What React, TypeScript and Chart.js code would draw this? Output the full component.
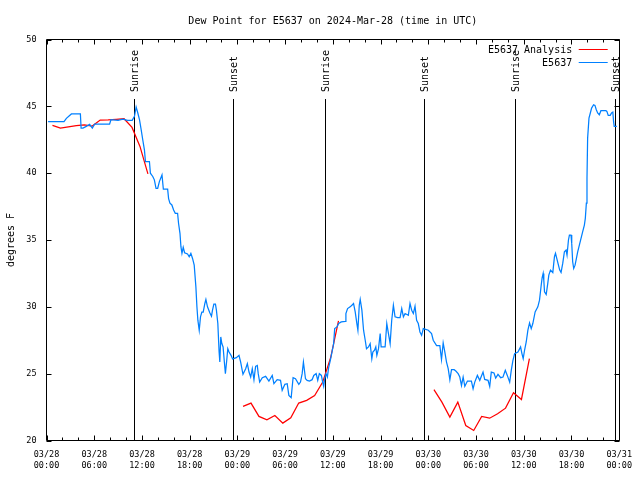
import { useEffect, useRef } from 'react';
import { Chart, registerables } from 'chart.js';

Chart.register(...registerables);

const FONT = '"DejaVu Sans Mono", "Liberation Mono", monospace';

const titleText = 'Dew Point for E5637 on 2024-Mar-28 (time in UTC)';
const yAxisTitle = 'degrees F';

// x axis: hours since 2024-03-28 00:00 UTC
const tickDates = ['03/28', '03/28', '03/28', '03/28', '03/29', '03/29', '03/29', '03/29', '03/30', '03/30', '03/30', '03/30', '03/31'];
const tickTimes = ['00:00', '06:00', '12:00', '18:00', '00:00', '06:00', '12:00', '18:00', '00:00', '06:00', '12:00', '18:00', '00:00'];

const sunEventLabels = ['Sunrise', 'Sunset', 'Sunrise', 'Sunset', 'Sunrise', 'Sunset'];
const sunEventHours = [10.97, 23.4, 35.05, 47.45, 58.93, 71.48];

const seriesNames = ['E5637 Analysis', 'E5637'];
const seriesColors = ['#ff0000', '#0080ff'];

// [hour, dew point °F]; null marks a gap
const analysisDewPoint: [number, number | null][] = [
  [0.75, 43.57], [1.75, 43.37], [2.75, 43.47], [3.75, 43.55], [4.75, 43.62], [5.75, 43.52], [6.75, 43.97],
  [7.75, 43.98], [8.75, 44.02], [9.75, 44.07], [10.75, 43.42], [11.75, 42.0], [12.75, 39.95],
  [18.7, null],
  [24.71, 22.55], [25.71, 22.8], [26.71, 21.8], [27.71, 21.55], [28.71, 21.87], [29.71, 21.3], [30.71, 21.7],
  [31.71, 22.8], [32.71, 23.0], [33.71, 23.37], [34.71, 24.35], [35.71, 26.17], [36.71, 28.95],
  [42.7, null],
  [48.71, 23.8], [49.71, 22.87], [50.71, 21.75], [51.71, 22.87], [52.71, 21.12], [53.71, 20.75], [54.71, 21.8],
  [55.71, 21.67], [56.71, 22.0], [57.71, 22.42], [58.71, 23.57], [59.71, 23.07], [60.71, 26.12],
];

const stationDewPoint: [number, number][] = [
  [0.2, 43.85], [2.2, 43.85], [2.5, 44.1], [3.13, 44.43], [4.26, 44.43], [4.35, 43.37], [4.59, 43.37], [5.0, 43.5], [5.42, 43.65], [5.76, 43.37],
  [6.05, 43.67], [7.93, 43.67], [8.1, 44.0], [9.0, 43.95], [9.6, 44.05], [10.2, 43.95], [10.77, 43.95], [11.06, 44.25], [11.27, 44.95], [11.48, 44.5],
  [11.69, 44.0], [11.9, 43.25], [12.1, 42.5], [12.31, 41.75], [12.44, 40.87], [12.94, 40.87], [13.06, 40.0], [13.36, 39.75], [13.56, 39.5], [13.77, 38.87],
  [13.98, 38.87], [14.19, 39.37], [14.52, 39.87], [14.69, 38.8], [15.23, 38.8], [15.35, 38.1], [15.52, 37.75], [15.76, 37.62], [15.98, 37.25], [16.19, 37.0],
  [16.48, 37.0], [16.6, 36.25], [16.78, 35.5], [16.9, 34.5], [17.03, 34.0], [17.19, 34.45], [17.36, 34.05], [17.73, 33.95], [17.94, 33.75], [18.15, 34.0],
  [18.36, 33.62], [18.57, 33.12], [18.78, 31.5], [18.91, 30.0], [19.03, 29.0], [19.2, 28.25], [19.36, 29.25], [19.53, 29.6], [19.7, 29.6], [19.91, 30.25],
  [20.04, 30.55], [20.24, 30.0], [20.53, 29.55], [20.74, 29.3], [20.87, 29.75], [21.04, 30.2], [21.24, 30.2], [21.36, 29.75], [21.54, 28.75], [21.7, 26.62],
  [21.79, 25.87], [21.91, 27.75], [22.04, 27.25], [22.2, 27.0], [22.36, 25.87], [22.49, 25.0], [22.66, 26.0], [22.79, 26.87], [22.95, 26.62], [23.2, 26.37],
  [23.4, 26.1], [23.87, 26.2], [24.2, 26.37], [24.41, 25.87], [24.7, 24.95], [25.04, 25.37], [25.25, 25.75], [25.46, 25.12], [25.67, 24.75], [25.87, 25.37],
  [26.08, 24.55], [26.29, 25.55], [26.5, 25.62], [26.62, 25.0], [26.8, 24.37], [27.13, 24.7], [27.55, 24.8], [27.96, 24.45], [28.38, 24.87], [28.59, 24.25],
  [29.0, 24.55], [29.42, 24.5], [29.63, 23.75], [29.97, 24.2], [30.26, 24.25], [30.47, 23.37], [30.76, 23.2], [31.0, 24.7], [31.3, 24.62], [31.72, 24.2],
  [31.93, 24.37], [32.14, 25.0], [32.3, 25.87], [32.56, 24.62], [32.77, 24.5], [33.06, 24.45], [33.39, 24.55], [33.6, 24.87], [33.9, 25.0], [34.1, 24.5],
  [34.3, 25.0], [34.56, 24.87], [34.72, 24.37], [34.85, 24.05], [34.97, 24.62], [35.14, 25.0], [35.31, 24.75], [35.47, 25.45], [35.68, 26.0], [35.89, 26.62],
  [36.1, 27.25], [36.23, 28.37], [36.52, 28.5], [36.73, 28.75], [37.06, 28.87], [37.57, 28.92], [37.64, 29.5], [37.85, 29.87], [38.18, 30.0], [38.39, 30.12],
  [38.6, 30.25], [38.81, 29.62], [39.02, 28.75], [39.15, 28.25], [39.32, 30.12], [39.44, 30.55], [39.65, 29.75], [39.86, 28.25], [40.07, 27.5], [40.23, 26.87],
  [40.48, 27.0], [40.69, 27.25], [40.9, 26.12], [41.03, 26.62], [41.24, 26.75], [41.4, 27.0], [41.53, 26.37], [41.74, 26.87], [41.95, 28.0], [42.07, 27.0],
  [42.57, 27.0], [42.78, 28.75], [42.99, 28.0], [43.2, 27.25], [43.4, 29.0], [43.61, 30.12], [43.82, 29.25], [44.15, 29.2], [44.45, 29.2], [44.66, 29.87],
  [44.87, 29.25], [45.08, 29.5], [45.49, 29.37], [45.7, 30.25], [45.91, 29.75], [46.12, 29.5], [46.33, 30.05], [46.53, 29.0], [46.74, 28.75], [46.95, 28.12],
  [47.16, 27.87], [47.37, 28.37], [48.0, 28.25], [48.41, 28.0], [48.62, 27.5], [49.04, 27.1], [49.45, 27.1], [49.66, 26.05], [49.87, 27.3], [50.08, 26.62],
  [50.29, 25.87], [50.5, 25.37], [50.71, 24.55], [50.92, 25.3], [51.25, 25.3], [51.46, 25.2], [51.75, 25.0], [51.96, 24.75], [52.17, 24.12], [52.38, 24.75],
  [52.59, 24.05], [52.92, 24.45], [53.42, 24.45], [53.63, 23.87], [53.84, 24.37], [54.17, 24.87], [54.47, 24.5], [54.88, 25.12], [55.09, 24.57], [55.51, 24.5],
  [55.72, 24.05], [55.92, 25.12], [56.26, 25.05], [56.47, 24.67], [56.76, 24.95], [57.1, 24.7], [57.39, 24.75], [57.68, 25.25], [57.93, 24.87], [58.23, 24.37],
  [58.43, 25.25], [58.64, 26.0], [58.85, 26.5], [59.27, 26.62], [59.6, 27.0], [59.77, 26.5], [59.93, 26.12], [60.1, 26.75], [60.31, 27.37], [60.52, 28.25],
  [60.73, 28.8], [60.94, 28.37], [61.14, 28.75], [61.43, 29.62], [61.77, 30.0], [61.98, 30.5], [62.19, 31.6], [62.31, 32.17], [62.44, 32.5], [62.52, 32.0],
  [62.61, 31.12], [62.82, 30.92], [63.02, 31.75], [63.15, 32.37], [63.36, 32.75], [63.65, 32.57], [63.86, 33.75], [63.99, 34.0], [64.15, 33.62], [64.36, 33.12],
  [64.52, 32.75], [64.69, 32.57], [64.9, 33.25], [65.11, 34.12], [65.32, 34.25], [65.44, 33.87], [65.62, 35.0], [65.74, 35.37], [65.94, 35.37], [66.03, 34.75],
  [66.15, 33.37], [66.28, 32.87], [66.45, 33.12], [66.62, 33.62], [66.78, 34.12], [66.99, 34.62], [67.2, 35.12], [67.41, 35.62], [67.62, 36.12], [67.74, 36.62],
  [67.87, 37.75], [67.95, 39.62], [68.03, 42.62], [68.2, 44.12], [68.37, 44.5], [68.53, 44.87], [68.78, 45.12], [68.95, 45.07], [69.12, 44.75], [69.29, 44.5],
  [69.5, 44.37], [69.7, 44.67], [70.33, 44.67], [70.45, 44.62], [70.62, 44.32], [70.87, 44.32], [71.04, 44.5], [71.2, 44.57], [71.29, 43.87], [71.37, 43.5],
  [71.7, 43.5],
];

const overlayPlugin = {
  id: 'gnuplotOverlay',
  beforeDatasetsDraw(chart: any) {
    const { ctx, chartArea: a, scales } = chart;
    const x = scales.x;
    ctx.save();
    ctx.strokeStyle = '#000';
    ctx.fillStyle = '#000';
    ctx.lineWidth = 1;
    ctx.font = `10px ${FONT}`;
    sunEventHours.forEach((h, i) => {
      const px = Math.round(x.getPixelForValue(h)) + 0.5;
      ctx.beginPath();
      ctx.moveTo(px, a.top + 59.5);
      ctx.lineTo(px, a.bottom);
      ctx.stroke();
      ctx.save();
      ctx.translate(px + 1, a.top + 52.5);
      ctx.rotate(-Math.PI / 2);
      ctx.textAlign = 'left';
      ctx.textBaseline = 'middle';
      ctx.fillText(sunEventLabels[i], 0, 0);
      ctx.restore();
    });
    ctx.restore();
  },
  afterDatasetsDraw(chart: any) {
    const { ctx, chartArea: a, scales } = chart;
    const x = scales.x;
    const y = scales.y;
    const L = Math.floor(a.left) + 0.5;
    const R = Math.floor(a.right) + 0.5;
    const T = Math.floor(a.top) + 0.5;
    const B = Math.floor(a.bottom) + 0.5;
    ctx.save();
    ctx.strokeStyle = '#000';
    ctx.lineWidth = 1;
    ctx.beginPath();
    ctx.rect(L, T, R - L, B - T);
    // x ticks (major from scale ticks, minor every 2 h)
    const majors = x.ticks.map((t: any) => t.value);
    for (let v = x.min; v <= x.max + 1e-9; v += 2) {
      const isMajor = majors.some((m: number) => Math.abs(m - v) < 1e-6);
      const len = isMajor ? 5 : 3;
      const px = Math.round(x.getPixelForValue(v)) + 0.5;
      ctx.moveTo(px, B); ctx.lineTo(px, B - len);
      ctx.moveTo(px, T); ctx.lineTo(px, T + len);
    }
    y.ticks.forEach((t: any) => {
      const py = Math.round(y.getPixelForValue(t.value)) + 0.5;
      ctx.moveTo(L, py); ctx.lineTo(L + 5, py);
      ctx.moveTo(R, py); ctx.lineTo(R - 5, py);
    });
    ctx.stroke();

    // legend (top right, text left of sample line)
    ctx.font = `10px ${FONT}`;
    ctx.textAlign = 'right';
    ctx.textBaseline = 'middle';
    chart.data.datasets.forEach((ds: any, i: number) => {
      const ly = Math.floor(a.top + 10 + i * 13) + 0.5;
      ctx.fillStyle = '#000';
      ctx.fillText(ds.label, a.right - 47, ly + 0.5);
      ctx.strokeStyle = ds.borderColor;
      ctx.beginPath();
      ctx.moveTo(a.right - 40.5, ly);
      ctx.lineTo(a.right - 11.5, ly);
      ctx.stroke();
    });
    ctx.restore();
  },
};

export default function App() {
  const canvasRef = useRef<HTMLCanvasElement>(null);

  useEffect(() => {
    const canvas = canvasRef.current;
    if (!canvas) return;
    const chart = new Chart(canvas, {
      type: 'line',
      data: {
        datasets: [
          {
            label: seriesNames[0],
            data: analysisDewPoint.map(([h, v]) => ({ x: h, y: v })),
            borderColor: seriesColors[0],
            backgroundColor: seriesColors[0],
            borderWidth: 1.25,
            pointRadius: 0,
            tension: 0,
            spanGaps: false,
            order: 1,
          },
          {
            label: seriesNames[1],
            data: stationDewPoint.map(([h, v]) => ({ x: h, y: v })),
            borderColor: seriesColors[1],
            backgroundColor: seriesColors[1],
            borderWidth: 1.25,
            pointRadius: 0,
            tension: 0,
            order: 0,
          },
        ],
      },
      options: {
        animation: false,
        responsive: false,
        devicePixelRatio: 1,
        events: [],
        layout: { padding: { left: 0, right: 18.5, top: 0, bottom: 0 } },
        plugins: {
          legend: { display: false },
          tooltip: { enabled: false },
          title: {
            display: true,
            text: titleText,
            color: '#000',
            fullSize: false,
            font: { family: FONT, size: 10, weight: 'normal', lineHeight: 1.2 },
            padding: { top: 15, bottom: 12.5 },
          },
        },
        scales: {
          x: {
            type: 'linear',
            min: 0,
            max: 72,
            grid: { display: false, drawTicks: false },
            border: { display: false },
            ticks: {
              stepSize: 6,
              autoSkip: false,
              maxRotation: 0,
              minRotation: 0,
              color: '#000',
              padding: 8,
              font: { family: FONT, size: 8.5, lineHeight: 1.376 },
              callback: (_v: any, i: number) => [tickDates[i], tickTimes[i]],
            },
            afterFit: (s: any) => { s.height = 39.5; },
          },
          y: {
            type: 'linear',
            min: 20,
            max: 50,
            grid: { display: false, drawTicks: false },
            border: { display: false },
            ticks: {
              stepSize: 5,
              color: '#000',
              padding: 10,
              font: { family: FONT, size: 8.5 },
            },
            title: {
              display: true,
              text: yAxisTitle,
              color: '#000',
              font: { family: FONT, size: 10, lineHeight: 1.2 },
              padding: { top: 5, bottom: 0 },
            },
            afterFit: (s: any) => { s.width = 46.5; },
          },
        },
      },
      plugins: [overlayPlugin],
    } as any);
    return () => chart.destroy();
  }, []);

  return (
    <div style={{ position: 'fixed', left: 0, top: 0, width: 640, height: 480, background: '#fff' }}>
      <canvas ref={canvasRef} width={640} height={480} style={{ display: 'block' }} />
    </div>
  );
}
